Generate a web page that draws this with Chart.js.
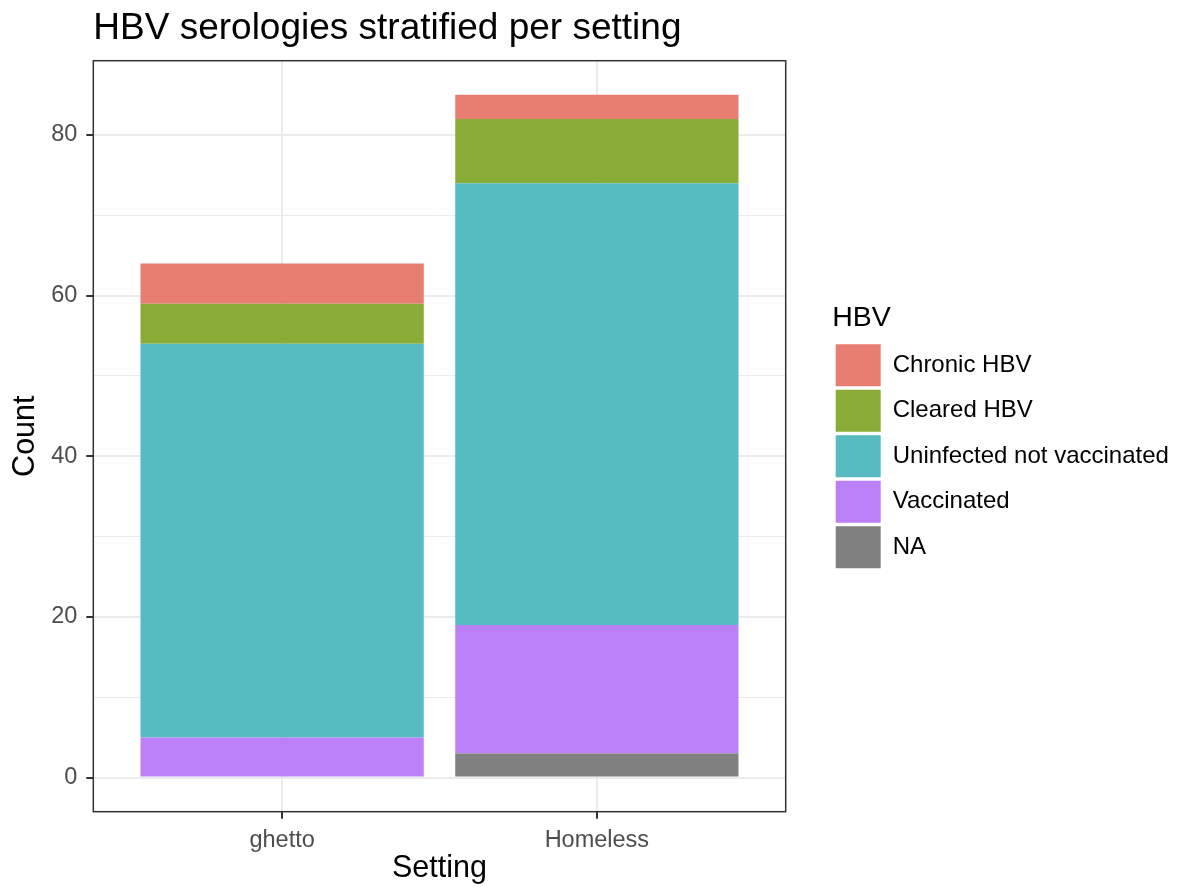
<!DOCTYPE html>
<html>
<head>
<meta charset="utf-8">
<script src="https://cdn.jsdelivr.net/npm/chart.js@4"></script>
<style>
html, body { margin: 0; padding: 0; background: #ffffff; }
#wrap { position: relative; width: 1200px; height: 895px; }
</style>
</head>
<body>
<div id="wrap"><canvas id="chart"></canvas></div>
<script>
// ---------- data ----------
const categories = ['ghetto', 'Homeless'];
const chronicHBV = [5, 3];
const clearedHBV = [5, 8];
const uninfectedNotVaccinated = [49, 55];
const vaccinated = [5, 16];
const naValues = [null, 3];
const yMajorTicks = [0, 20, 40, 60, 80];
const yMinorGrid = [10, 30, 50, 70];

// ---------- styles ----------
const FONT = "'Liberation Sans', Arial, Helvetica, sans-serif";
const colors = {
  chronic: '#E87D72',
  cleared: '#88AC35',
  uninfected: '#56BCC2',
  vaccinated: '#BC80F6',
  na: '#808080'
};

Chart.defaults.font.family = FONT;
const majorSet = new Set(yMajorTicks);
const xPos = categories.map((_, i) => i + 1);
const pts = vals => vals.map((v, i) => ({ x: xPos[i], y: v }));

const panelBorder = {
  id: 'panelBorder',
  afterDatasetsDraw(chart) {
    const { ctx, chartArea: a } = chart;
    ctx.save();
    ctx.strokeStyle = '#333333';
    ctx.lineWidth = 1.5;
    ctx.strokeRect(a.left, a.top, a.right - a.left, a.bottom - a.top);
    ctx.restore();
  }
};
const titleToPanel = {
  id: 'titleToPanel',
  afterLayout(chart) {
    if (chart.titleBlock) chart.titleBlock.left = chart.chartArea.left;
  }
};

const datasets = [
  { label: 'NA', data: pts(naValues), backgroundColor: colors.na },
  { label: 'Vaccinated', data: pts(vaccinated), backgroundColor: colors.vaccinated },
  { label: 'Uninfected not vaccinated', data: pts(uninfectedNotVaccinated), backgroundColor: colors.uninfected },
  { label: 'Cleared HBV', data: pts(clearedHBV), backgroundColor: colors.cleared },
  { label: 'Chronic HBV', data: pts(chronicHBV), backgroundColor: colors.chronic }
].map(d => Object.assign(d, { borderWidth: 0, barPercentage: 0.9, categoryPercentage: 1.0 }));

new Chart(document.getElementById('chart'), {
  type: 'bar',
  data: { datasets },
  plugins: [panelBorder, titleToPanel],
  options: {
    responsive: true,
    maintainAspectRatio: false,
    animation: false,
    layout: { padding: { left: 0, top: 0, right: 22.8, bottom: 0 } },
    scales: {
      x: {
        type: 'linear',
        min: 0.4,
        max: 2.6,
        stacked: true,
        offset: false,
        afterBuildTicks: s => { s.ticks = xPos.map(v => ({ value: v })); },
        afterFit: s => { s.height = 83.3; },
        ticks: {
          callback: v => categories[v - 1] ?? '',
          autoSkip: false,
          maxRotation: 0,
          color: '#4D4D4D',
          font: { size: 23.5 },
          padding: 7.4
        },
        grid: { offset: false, color: '#EBEBEB', lineWidth: 2, tickLength: 7, tickColor: '#333333', tickWidth: 2 },
        border: { display: false },
        title: { display: true, text: 'Setting', color: '#000000', font: { size: 30.5, weight: 'normal' }, padding: { top: 0, bottom: 7.7 } }
      },
      y: {
        type: 'linear',
        min: -4.25,
        max: 89.25,
        bounds: 'data',
        stacked: true,
        afterBuildTicks: s => {
          s.ticks = [...yMajorTicks, ...yMinorGrid].sort((a, b) => a - b).map(v => ({ value: v }));
        },
        afterFit: s => { s.width = 93.3; },
        ticks: {
          callback: v => (majorSet.has(v) ? String(v) : ''),
          color: '#4D4D4D',
          font: { size: 23.5 },
          padding: 9
        },
        grid: {
          color: '#EBEBEB',
          lineWidth: c => (c.tick && majorSet.has(c.tick.value) ? 2 : 1),
          tickLength: 7,
          tickColor: c => (c.tick && majorSet.has(c.tick.value) ? '#333333' : 'rgba(0,0,0,0)'),
          tickWidth: 2
        },
        border: { display: false },
        title: { display: true, text: 'Count', color: '#000000', font: { size: 30.5, weight: 'normal' }, padding: { top: 7.5, bottom: 0 } }
      },
      legendGap: {
        type: 'linear',
        position: 'right',
        display: true,
        grid: { display: false, drawTicks: false },
        border: { display: false },
        ticks: { display: false },
        afterFit: s => { s.width = 46.5; }
      }
    },
    plugins: {
      title: {
        display: true,
        text: 'HBV serologies stratified per setting',
        align: 'start',
        color: '#000000',
        font: { size: 37, weight: 'normal' },
        padding: { top: 6.1, bottom: 10.2 }
      },
      legend: {
        position: 'right',
        align: 'center',
        fullSize: false,
        reverse: true,
        maxWidth: 345,
        labels: {
          boxWidth: 45,
          boxHeight: 42,
          padding: 3.5,
          color: '#000000',
          font: { size: 24 }
        },
        title: {
          display: true,
          text: 'HBV',
          position: 'start',
          color: '#000000',
          font: { size: 28.5, weight: 'normal' },
          padding: { top: 3.4, bottom: 2.5 }
        }
      },
      tooltip: { enabled: false }
    }
  }
});
</script>
</body>
</html>
